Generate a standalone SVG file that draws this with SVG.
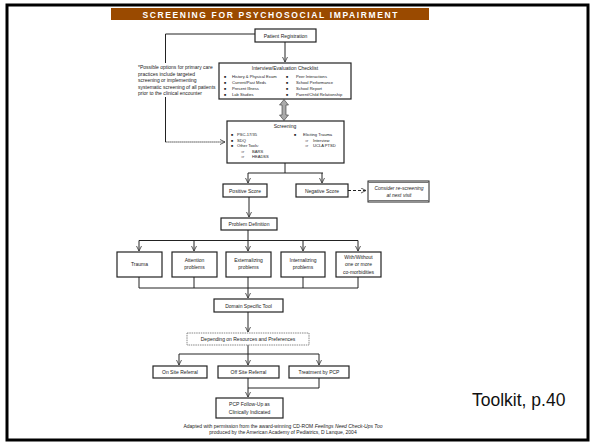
<svg xmlns="http://www.w3.org/2000/svg" width="594" height="445" viewBox="0 0 594 445">
<defs>
<marker id="ah" markerWidth="6" markerHeight="6" refX="5" refY="3" orient="auto" markerUnits="userSpaceOnUse">
<path d="M0,0.5 L5,3 L0,5.5" fill="none" stroke="#333" stroke-width="0.8"/>
</marker>
<style>
.box{fill:#fff;stroke:#222;stroke-width:1.2}
.ln{fill:none;stroke:#222;stroke-width:1}
.t{font-family:"Liberation Sans",Arial,sans-serif;font-size:5px;fill:#222}
.c{text-anchor:middle}
.b{font-weight:bold}
.bl{font-size:3.6px}
.it{font-size:4.1px}
</style>
</defs>
<rect width="594" height="445" fill="#fff"/>
<rect x="7" y="5" width="581" height="435" fill="none" stroke="#000" stroke-width="3"/>
<rect x="111" y="8" width="318" height="12" fill="#9a4a00"/>
<text x="270" y="17.5" class="c b" font-family="Liberation Sans,Arial,sans-serif" font-size="8.5" fill="#fff" textLength="255" lengthAdjust="spacing">SCREENING FOR PSYCHOSOCIAL IMPAIRMENT</text>

<g id="connectors">
<path class="ln" d="M255,34 H165.5 V142" stroke="#555"/>
<path class="ln" d="M165.5,142 H225" stroke="#555" stroke-dasharray="1.2,0.8" marker-end="url(#ah)"/>
<path class="ln" d="M285,42 V62" marker-end="url(#ah)"/>
<polygon points="284,99.5 288.5,105 286,105 286,115 288.5,115 284,120.5 279.5,115 282,115 282,105 279.5,105" fill="#aaa" stroke="#333" stroke-width="0.6"/>
<path class="ln" d="M285,163 V173 M248,173 H323" />
<path class="ln" d="M248,173 V183" marker-end="url(#ah)"/>
<path class="ln" d="M322,173 V183" marker-end="url(#ah)"/>
<path class="ln" d="M348,190.5 H366" stroke-width="1.6" stroke-dasharray="3,2" marker-end="url(#ah)"/>
<path class="ln" d="M249,197 V217" marker-end="url(#ah)"/>
<path class="ln" d="M248,230 V240.5 M139,240.5 H358"/>
<path class="ln" d="M139,240.5 V251" marker-end="url(#ah)"/>
<path class="ln" d="M194,240.5 V251" marker-end="url(#ah)"/>
<path class="ln" d="M248,240.5 V251" marker-end="url(#ah)"/>
<path class="ln" d="M303,240.5 V251" marker-end="url(#ah)"/>
<path class="ln" d="M358,240.5 V251" marker-end="url(#ah)"/>
<path class="ln" d="M139,277 V288 M194,277 V288 M303,277 V288 M358,277 V288 M139,288 H358"/>
<path class="ln" d="M248,277 V298" marker-end="url(#ah)"/>
<path class="ln" d="M248,312 V332" marker-end="url(#ah)"/>
<path class="ln" d="M248,345 V354 M179,354 H319"/>
<path class="ln" d="M179,354 V365" marker-end="url(#ah)"/>
<path class="ln" d="M248,354 V365" marker-end="url(#ah)"/>
<path class="ln" d="M319,354 V365" marker-end="url(#ah)"/>
<path class="ln" d="M319,378 V388 H248 M248,377 V397" marker-end="url(#ah)"/>
</g>

<g id="note">
<rect x="136" y="63" width="82" height="34" fill="#fff"/>
<text class="t" x="138" y="69">*Possible options for primary care</text>
<text class="t" x="138" y="75.5">practices include targeted</text>
<text class="t" x="138" y="82">screening or implementing</text>
<text class="t" x="138" y="88.5">systematic screening of all patients</text>
<text class="t" x="138" y="95">prior to the clinical encounter</text>
</g>

<g id="patient-registration">
<rect class="box" x="255" y="29" width="61" height="13"/>
<text class="t c" x="285.5" y="37.5">Patient Registration</text>
</g>

<g id="interview">
<rect class="box" x="219" y="63" width="132" height="36"/>
<text class="t c" x="285" y="70" font-size="4.5">Interview/Evaluation Checklist</text>
<text class="t bl" x="224" y="77.5">■</text><text class="t it" x="232" y="77.5">History &amp; Physical Exam</text>
<text class="t bl" x="224" y="83.5">■</text><text class="t it" x="232" y="83.5">Current/Past Meds</text>
<text class="t bl" x="224" y="89.5">■</text><text class="t it" x="232" y="89.5">Present Illness</text>
<text class="t bl" x="224" y="95.5">■</text><text class="t it" x="232" y="95.5">Lab Studies</text>
<text class="t bl" x="286" y="77.5">■</text><text class="t it" x="296" y="77.5">Peer Interactions</text>
<text class="t bl" x="286" y="83.5">■</text><text class="t it" x="296" y="83.5">School Performance</text>
<text class="t bl" x="286" y="89.5">■</text><text class="t it" x="296" y="89.5">School Report</text>
<text class="t bl" x="286" y="95.5">■</text><text class="t it" x="296" y="95.5">Parent/Child Relationship</text>
</g>

<g id="screening">
<rect class="box" x="227" y="121" width="117" height="42"/>
<text class="t c" x="285" y="127.5" font-size="4.5">Screening</text>
<text class="t bl" x="231" y="136">■</text><text class="t it" x="237" y="136">PSC-17/35</text>
<text class="t bl" x="231" y="141.5">■</text><text class="t it" x="237" y="141.5">SDQ</text>
<text class="t bl" x="231" y="147">■</text><text class="t it" x="237" y="147">Other Tools:</text>
<text class="t it" x="241" y="152.5">⇒</text><text class="t it" x="252" y="152.5">BARS</text>
<text class="t it" x="241" y="158">⇒</text><text class="t it" x="252" y="158">HEADSS</text>
<text class="t bl" x="294" y="136">■</text><text class="t it" x="303" y="136">Eliciting Trauma</text>
<text class="t it" x="305" y="141.5">⇒</text><text class="t it" x="313" y="141.5">Interview</text>
<text class="t it" x="305" y="147">⇒</text><text class="t it" x="313" y="147">UCLA PTSD</text>
</g>

<g id="positive-score">
<rect class="box" x="223" y="184" width="44" height="13"/>
<text class="t c" x="245" y="192.5">Positive Score</text>
</g>
<g id="negative-score">
<rect class="box" x="296" y="184" width="52" height="13"/>
<text class="t c" x="322" y="192.5">Negative Score</text>
</g>
<g id="rescreen">
<rect x="368" y="181" width="61" height="21" fill="#fff" stroke="#222" stroke-width="1"/>
<path d="M368,182.5 H429 M368,200.5 H429" stroke="#777" stroke-width="1"/>
<text class="t c" x="399" y="189.5" font-style="italic" font-size="4.6">Consider re-screening</text>
<text class="t c" x="399" y="196.5" font-style="italic" font-size="4.6">at next visit</text>
</g>

<g id="problem-definition">
<rect class="box" x="221" y="218" width="56" height="12"/>
<text class="t c" x="249" y="226">Problem Definition</text>
</g>

<g id="trauma">
<rect class="box" x="117" y="252" width="45" height="25"/>
<text class="t c" x="139.5" y="266">Trauma</text>
</g>
<g id="attention">
<rect class="box" x="172" y="252" width="45" height="25"/>
<text class="t c" x="194.5" y="262">Attention</text>
<text class="t c" x="194.5" y="269">problems</text>
</g>
<g id="externalizing">
<rect class="box" x="226" y="252" width="45" height="25"/>
<text class="t c" x="248.5" y="262">Externalizing</text>
<text class="t c" x="248.5" y="269">problems</text>
</g>
<g id="internalizing">
<rect class="box" x="281" y="252" width="44" height="25"/>
<text class="t c" x="303" y="262">Internalizing</text>
<text class="t c" x="303" y="269">problems</text>
</g>
<g id="comorbid">
<rect class="box" x="336" y="252" width="45" height="25"/>
<text class="t c" x="358.5" y="259">With/Without</text>
<text class="t c" x="358.5" y="266">one or more</text>
<text class="t c" x="358.5" y="273.5">co-morbidities</text>
</g>

<g id="domain-tool">
<rect class="box" x="214" y="299" width="69" height="13"/>
<text class="t c" x="248.5" y="307.5">Domain Specific Tool</text>
</g>
<g id="depending">
<rect x="187" y="333" width="122" height="12" fill="#fff" stroke="#888" stroke-width="1" stroke-dasharray="1.5,0.8"/>
<text class="t c" x="248" y="340.8">Depending on Resources and Preferences</text>
</g>

<g id="on-site">
<rect class="box" x="153" y="366" width="54" height="12"/>
<text class="t c" x="180" y="374">On Site Referral</text>
</g>
<g id="off-site">
<rect class="box" x="218" y="366" width="61" height="12"/>
<text class="t c" x="248.5" y="374">Off Site Referral</text>
</g>
<g id="treatment">
<rect class="box" x="289" y="366" width="60" height="12"/>
<text class="t c" x="319" y="374">Treatment by PCP</text>
</g>
<g id="follow-up">
<rect class="box" x="216" y="398" width="67" height="20"/>
<text class="t c" x="249.5" y="406">PCP Follow-Up as</text>
<text class="t c" x="249.5" y="414">Clinically Indicated</text>
</g>

<text class="t c" x="283" y="428" font-size="3.6">Adapted with permission from the award-winning CD-ROM <tspan font-style="italic">Feelings Need Check-Ups Too</tspan></text>
<text class="t c" x="283" y="433.5" font-size="3.6">produced by the American Academy of Pediatrics, D Lanque, 2004</text>

<text x="472" y="406" font-family="Liberation Sans,Arial,sans-serif" font-size="17.5" fill="#111">Toolkit, p.40</text>
</svg>
